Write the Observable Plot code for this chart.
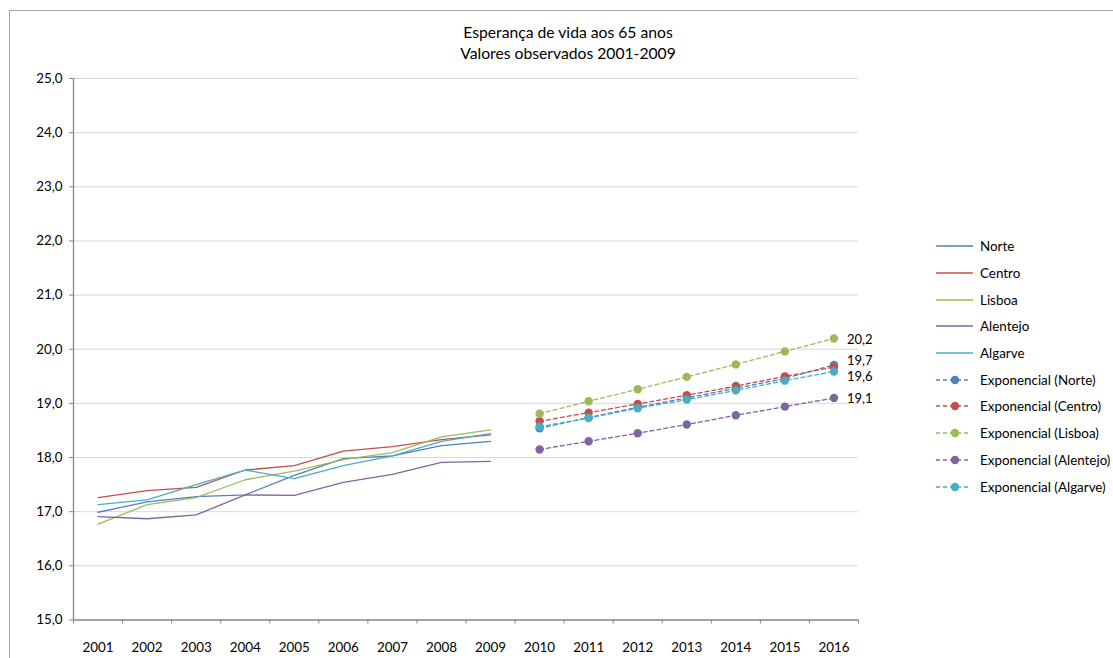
<!DOCTYPE html>
<html><head><meta charset="utf-8">
<script src="https://cdn.jsdelivr.net/npm/d3@7"></script>
<script src="https://cdn.jsdelivr.net/npm/@observablehq/plot@0.6"></script>
<style>
body{margin:0;overflow:hidden;background:#fff;font-family:Lato,sans-serif;}
#wrap{position:relative;width:1113px;height:658px;overflow:hidden;}
#chart{position:absolute;left:0;top:0;}
#frame{position:absolute;left:9px;top:10px;width:1200px;height:800px;border:1px solid #a6a6a6;box-sizing:border-box;pointer-events:none;}
#title{position:absolute;left:0;top:22px;width:1136px;text-align:center;font-size:15.7px;line-height:21px;color:#000;}
#legend{position:absolute;left:936px;top:233px;font-size:13.4px;color:#000;}
.row{display:flex;align-items:center;height:26.7px;white-space:nowrap;}
.row svg{margin-right:7px;flex:none;}
</style></head>
<body>
<div id="wrap">
  <div id="chart"></div>
  <div id="title">Esperança de vida aos 65 anos<br>Valores observados 2001-2009</div>
  <div id="legend"></div>
  <div id="frame"></div>
</div>
<script>
const years = [2001, 2002, 2003, 2004, 2005, 2006, 2007, 2008, 2009];
const projYears = [2010, 2011, 2012, 2013, 2014, 2015, 2016];
const allYears = [2001, 2002, 2003, 2004, 2005, 2006, 2007, 2008, 2009, 2010, 2011, 2012, 2013, 2014, 2015, 2016];
const regions = ["Norte", "Centro", "Lisboa", "Alentejo", "Algarve"];
const colors = ["#4F81BD", "#C0504D", "#9BBB59", "#8064A2", "#4BACC6"];

const norte    = [16.99, 17.18, 17.28, 17.31, 17.67, 17.98, 18.03, 18.22, 18.30];
const centro   = [17.26, 17.39, 17.45, 17.77, 17.85, 18.12, 18.20, 18.33, 18.42];
const lisboa   = [16.77, 17.13, 17.26, 17.59, 17.75, 17.96, 18.09, 18.38, 18.51];
const alentejo = [16.91, 16.87, 16.94, 17.31, 17.30, 17.54, 17.69, 17.91, 17.93];
const algarve  = [17.13, 17.22, 17.50, 17.77, 17.61, 17.85, 18.03, 18.30, 18.44];

const expNorte    = [18.54, 18.74, 18.93, 19.10, 19.28, 19.46, 19.71];
const expCentro   = [18.67, 18.83, 18.99, 19.15, 19.32, 19.50, 19.67];
const expLisboa   = [18.81, 19.04, 19.26, 19.49, 19.72, 19.96, 20.20];
const expAlentejo = [18.15, 18.30, 18.45, 18.61, 18.78, 18.94, 19.10];
const expAlgarve  = [18.57, 18.73, 18.91, 19.07, 19.24, 19.42, 19.59];

const yTicks = [15, 16, 17, 18, 19, 20, 21, 22, 23, 24, 25];
const labelled = ["Norte", "Lisboa", "Alentejo", "Algarve"];
const labelDy = {Norte: -4.5, Lisboa: 1, Alentejo: 1, Algarve: 5};

const obsSeries = [norte, centro, lisboa, alentejo, algarve];
const expSeries = [expNorte, expCentro, expLisboa, expAlentejo, expAlgarve];

const obs = regions.flatMap((r, i) => years.map((yr, j) => ({region: r, year: yr, value: obsSeries[i][j]})));
const proj = regions.flatMap((r, i) => projYears.map((yr, j) => ({region: r, year: yr, value: expSeries[i][j]})));
const fmt = v => v.toFixed(1).replace(".", ",");
const boundaries = allYears.map(y => y - 0.5).concat([allYears[allYears.length - 1] + 0.5]);

const marks = [
  Plot.ruleY(yTicks.slice(1), {stroke: "#d9d9d9", strokeWidth: 1}),
  Plot.ruleX([boundaries[0]], {stroke: "#868686", strokeWidth: 1.3}),
  Plot.ruleY([yTicks[0]], {stroke: "#868686", strokeWidth: 1.3}),
  Plot.axisY({ticks: yTicks, tickSize: 4, tickPadding: 7, tickFormat: fmt, stroke: "#868686", fill: "#000", fontSize: 13.4, label: null}),
  Plot.axisX({ticks: boundaries, tickSize: 4, tickFormat: () => "", stroke: "#868686", label: null}),
  Plot.axisX({ticks: allYears, tickSize: 0, tickPadding: 22, tickFormat: d => String(d), fill: "#000", fontSize: 13.4, label: null}),
  ...regions.map((r, i) => Plot.line(obs.filter(d => d.region === r), {x: "year", y: "value", stroke: colors[i], strokeWidth: 1.3})),
  ...regions.flatMap((r, i) => {
    const data = proj.filter(d => d.region === r);
    return [
      Plot.line(data, {x: "year", y: "value", stroke: colors[i], strokeWidth: 1.3, strokeDasharray: "4,3"}),
      Plot.dot(data, {x: "year", y: "value", r: 4.2, fill: colors[i]})
    ];
  }),
  ...labelled.map(r => Plot.text(proj.filter(d => d.region === r && d.year === projYears[projYears.length - 1]), {
    x: "year", y: "value", text: d => fmt(d.value), textAnchor: "start", dx: 13, dy: labelDy[r], fontSize: 13, fill: "#000", lineAnchor: "middle"
  }))
];

const chart = Plot.plot({
  width: 1113,
  height: 658,
  marginLeft: 73,
  marginRight: 255,
  marginTop: 78,
  marginBottom: 38.5,
  style: {background: "transparent", fontFamily: "Lato, sans-serif"},
  x: {domain: [boundaries[0], boundaries[boundaries.length - 1]]},
  y: {domain: [yTicks[0], yTicks[yTicks.length - 1]]},
  marks
});
document.getElementById("chart").appendChild(chart);

const legend = document.getElementById("legend");
const ns = "http://www.w3.org/2000/svg";
function addRow(label, color, dashed) {
  const row = document.createElement("div");
  row.className = "row";
  const svg = document.createElementNS(ns, "svg");
  svg.setAttribute("width", 37);
  svg.setAttribute("height", 10);
  const line = document.createElementNS(ns, "line");
  line.setAttribute("x1", 0); line.setAttribute("x2", dashed ? 35 : 37);
  line.setAttribute("y1", 5); line.setAttribute("y2", 5);
  line.setAttribute("stroke", color); line.setAttribute("stroke-width", 1.3);
  if (dashed) line.setAttribute("stroke-dasharray", "4,3");
  svg.appendChild(line);
  if (dashed) {
    const c = document.createElementNS(ns, "circle");
    c.setAttribute("cx", 19); c.setAttribute("cy", 5); c.setAttribute("r", 4.2);
    c.setAttribute("fill", color);
    svg.appendChild(c);
  }
  row.appendChild(svg);
  const span = document.createElement("span");
  span.textContent = label;
  row.appendChild(span);
  legend.appendChild(row);
}
regions.forEach((r, i) => addRow(r, colors[i], false));
regions.forEach((r, i) => addRow("Exponencial (" + r + ")", colors[i], true));
</script>
</body></html>
